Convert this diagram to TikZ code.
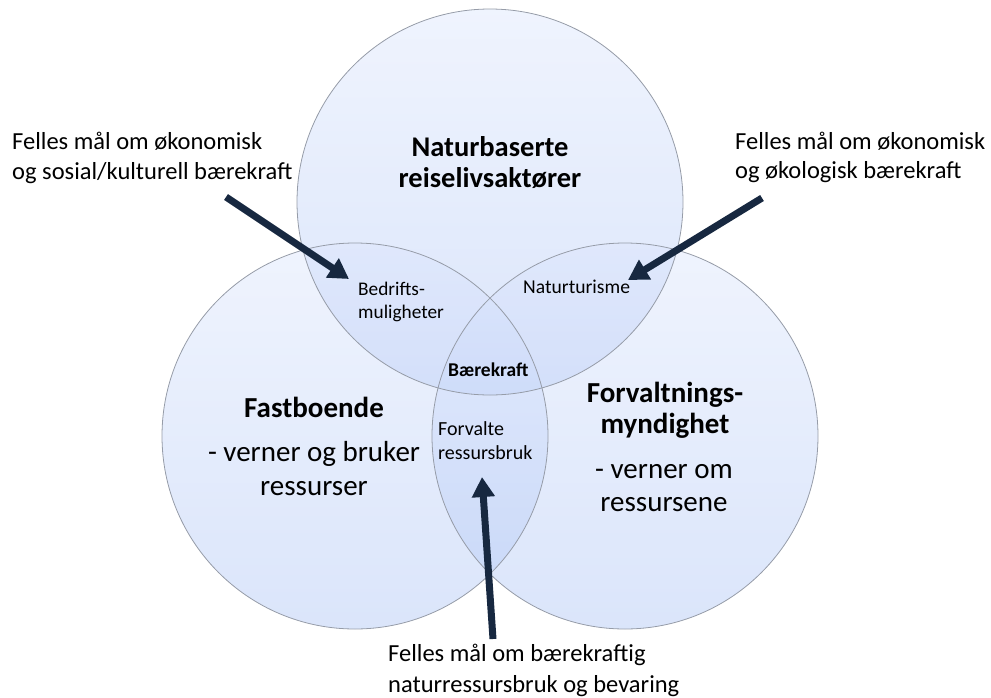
\documentclass[tikz,border=0pt]{standalone}
\usepackage{fontspec}
\setmainfont{Carlito}
\usetikzlibrary{arrows.meta}

\definecolor{ringtop}{RGB}{220,230,252}
\definecolor{ringbot}{RGB}{174,197,245}
\definecolor{ringedge}{RGB}{150,156,168}
\definecolor{navy}{RGB}{23,40,64}

\tikzset{
  ring/.style={top color=ringtop, bottom color=ringbot, fill opacity=0.45},
  ringline/.style={draw=ringedge, line width=0.8pt},
  txt/.style={inner sep=0pt, anchor=base, text=black},
  txtl/.style={inner sep=0pt, anchor=base west, text=black},
  pointer/.style={draw=navy, line width=7pt, -{Triangle[length=20pt,width=22pt]}},
}

% font helpers: size / baseline skip in pt
\newcommand{\fz}[2]{\fontsize{#1}{#2}\selectfont}
\newcommand{\stack}[2]{\begin{tabular}[t]{@{}#1@{}}#2\end{tabular}}

\begin{document}
\begin{tikzpicture}[x=1pt,y=-1pt]
\useasboundingbox (0,0) rectangle (991,697);

% the three circles
\coordinate (cTop)   at (490,202);
\coordinate (cLeft)  at (355,436);
\coordinate (cRight) at (625,436);

\foreach \c in {cTop,cLeft,cRight}
  \shade[ring] (\c) circle[radius=193pt];
\foreach \c in {cTop,cLeft,cRight}
  \draw[ringline] (\c) circle[radius=193pt];

% main labels
\node[txt] (naturb) at (490,156)
  {\fz{28.5}{31}\bfseries\stack{c}{Naturbaserte\\reiselivsaktører}};
\node[txt] (fastT) at (314,417) {\fz{29}{34}\bfseries Fastboende};
\node[txt] (fastD) at (314,461)
  {\fz{29}{34}\stack{c}{- verner og bruker\\ressurser}};
\node[txt] (forvT) at (665,402)
  {\fz{29}{31}\bfseries\stack{c}{Forvaltnings-\\myndighet}};
\node[txt] (forvD) at (664,478)
  {\fz{29}{33.5}\stack{c}{- verner om\\ressursene}};

% overlap labels
\node[txtl] (bedr) at (358,295)
  {\fz{19.3}{23}\stack{l}{Bedrifts-\\muligheter}};
\node[txtl] (natur) at (523,293) {\fz{19.6}{23}Naturturisme};
\node[txtl] (baere) at (448,376) {\fz{19.5}{23}\bfseries Bærekraft};
\node[txtl] (forva) at (438,435)
  {\fz{20}{24}\stack{l}{Forvalte\\ressursbruk}};

% annotations
\node[txtl] (noteL) at (12,149)
  {\fz{24.5}{30}\stack{l}{Felles mål om økonomisk\\og sosial/kulturell bærekraft}};
\node[txtl] (noteR) at (735,149)
  {\fz{24.5}{29}\stack{l}{Felles mål om økonomisk\\og økologisk bærekraft}};
\node[txtl] (noteB) at (388,661)
  {\fz{24.5}{31}\stack{l}{Felles mål om bærekraftig\\naturressursbruk og bevaring}};

% pointer arrows
\coordinate (aLs) at (226,197);
\coordinate (aLe) at (349,279);
\coordinate (aRs) at (762,198);
\coordinate (aRe) at (628,280);
\coordinate (aBs) at (493,639);
\coordinate (aBe) at (482,477);

\draw[pointer] (aLs) -- (aLe);
\draw[pointer] (aRs) -- (aRe);
\draw[pointer] (aBs) -- (aBe);
\end{tikzpicture}
\end{document}
